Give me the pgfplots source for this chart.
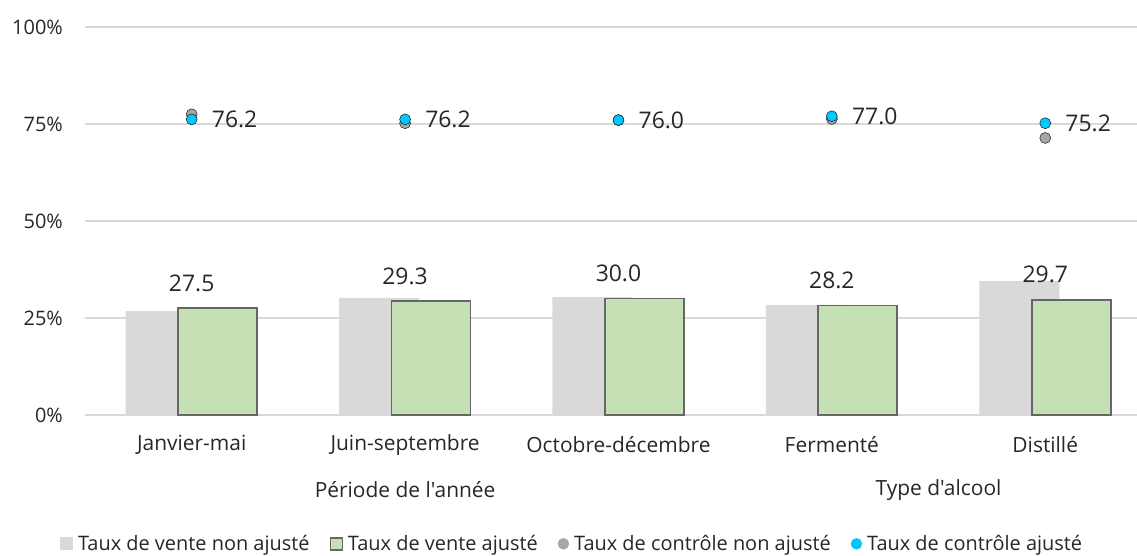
\documentclass[border=0pt]{standalone}
\usepackage{fontspec}
\setmainfont{Open Sans}[Ligatures=TeXOff]
\usepackage{pgfplots}
\pgfplotsset{compat=1.18}

\definecolor{gbar}{HTML}{D9D9D9}
\definecolor{vbar}{HTML}{C5E0B4}
\definecolor{vedge}{HTML}{666666}
\definecolor{gdot}{HTML}{A6A6A6}
\definecolor{cdot}{HTML}{00C8FF}
\definecolor{txt}{HTML}{262626}
\definecolor{gridc}{HTML}{D9D9D9}

\begin{document}
\begin{tikzpicture}
\begin{axis}[
    at={(85bp,141bp)}, anchor=south west,
    scale only axis, width=1052bp, height=388bp,
    xmin=-0.5, xmax=4.43, ymin=0, ymax=100,
    xtick={0,1,2,3,4},
    xticklabels={Janvier-mai, Juin-septembre, Octobre-décembre, Fermenté, Distillé},
    ytick={0,25,50,75,100},
    yticklabel={\pgfmathprintnumber{\tick}\%},
    /pgf/number format/assume math mode=true,
    ymajorgrids, grid style={gridc, line width=1.5bp},
    axis line style={draw=none},
    major tick length=0pt,
    xticklabel style={anchor=center, yshift=-30bp, font=\fontsize{21}{24}\selectfont, text=txt},
    yticklabel style={anchor=east, inner sep=0pt, xshift=-22bp, font=\fontsize{20}{23}\selectfont, text=txt},
    clip=false,
    legend columns=4,
    legend cell align=left,
    legend style={at={(0.463,-0.332)}, anchor=center, draw=none,
        font=\fontsize{20}{23}\selectfont, text=txt, inner sep=0pt,
        /tikz/every odd column/.append style={column sep=3bp},
        /tikz/every even column/.append style={column sep=18bp}},
]
% grey bars: unadjusted sales rate
\addplot[ybar, bar width=80bp, bar shift=-26bp, fill=gbar, draw=none,
    legend image code/.code={\fill[gbar] (0bp,-6.5bp) rectangle (13bp,6.5bp);}]
    coordinates {(0,26.8) (1,30.2) (2,30.4) (3,28.4) (4,34.5)};
% green bars: adjusted sales rate
\addplot[ybar, bar width=79bp, bar shift=26bp, fill=vbar, draw=vedge, line width=1.8bp,
    point meta=explicit,
    nodes near coords={\pgfmathprintnumber[fixed, fixed zerofill, precision=1]{\pgfplotspointmeta}},
    every node near coord/.append style={anchor=center, yshift=25bp, text=txt, font=\fontsize{23}{26}\selectfont},
    legend image code/.code={\filldraw[fill=vbar, draw=vedge, line width=1.5bp] (0bp,-6bp) rectangle (12bp,6bp);}]
    coordinates {(0,27.5) [27.5] (1,29.3) [29.3] (2,30.0) [30.0] (3,28.2) [28.2] (4,29.7) [29.7]};
% grey dots: unadjusted control rate
\addplot[only marks, mark=*, mark size=5.5bp, mark options={fill=gdot, draw=none},
    legend image code/.code={\fill[gdot] (6bp,0bp) circle (5.5bp);}]
    coordinates {(0,77.5) (1,75.2) (2,76.0) (3,76.3) (4,71.4)};
% cyan dots: adjusted control rate
\addplot[only marks, mark=*, mark size=5.5bp, mark options={fill=cdot, draw=none},
    point meta=explicit,
    nodes near coords={\pgfmathprintnumber[fixed, fixed zerofill, precision=1]{\pgfplotspointmeta}},
    every node near coord/.append style={anchor=west, xshift=20bp, yshift=0bp, inner sep=0pt, text=txt, font=\fontsize{23}{26}\selectfont},
    legend image code/.code={\fill[cdot] (6bp,0bp) circle (5.5bp);}]
    coordinates {(0,76.2) [76.2] (1,76.2) [76.2] (2,76.0) [76.0] (3,77.0) [77.0] (4,75.2) [75.2]};
\legend{Taux de vente non ajusté, Taux de vente ajusté, Taux de contrôle non ajusté, Taux de contrôle ajusté}
\node[font=\fontsize{21}{24}\selectfont, text=txt] at (axis cs:1,0) [yshift=-75bp] {Période de l'année};
\node[font=\fontsize{21}{24}\selectfont, text=txt] at (axis cs:3.5,0) [yshift=-75bp] {Type d'alcool};
\end{axis}
\pgfresetboundingbox
\path[use as bounding box] (0,0) rectangle (1137bp,556bp);
\end{tikzpicture}
\end{document}
